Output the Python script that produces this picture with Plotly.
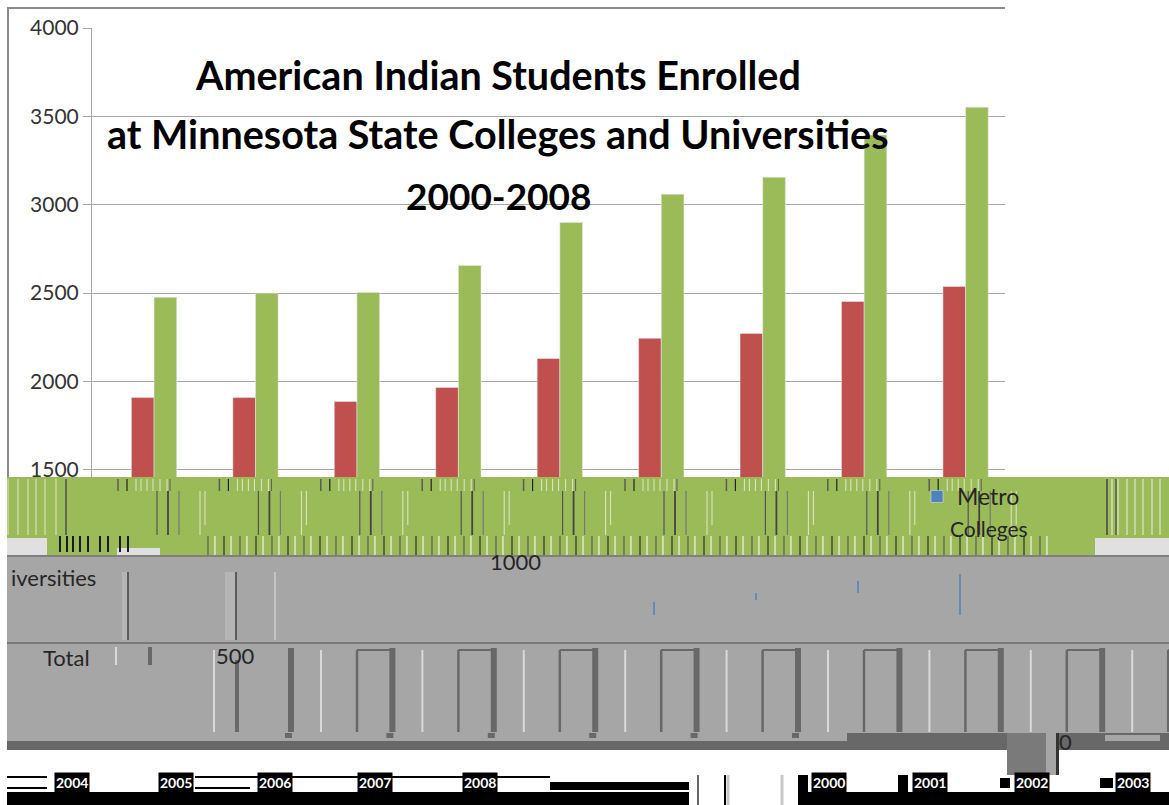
import plotly.graph_objects as go

YEARS = ["2000", "2001", "2002", "2003", "2004", "2005", "2006", "2007", "2008"]
METRO_COLLEGES = [565, 590, 615, 690, 770, 815, 885, 930, 1010]
STATE_UNIVERSITIES = [1909, 1909, 1887, 1966, 2130, 2244, 2272, 2453, 2538]
TOTAL = [2476, 2500, 2504, 2657, 2900, 3060, 3156, 3394, 3552]
Y_TICKS = [0, 500, 1000, 1500, 2000, 2500, 3000, 3500, 4000]
TITLE_LINES = ["American Indian Students Enrolled",
               "at Minnesota State Colleges and Universities",
               "2000-2008"]

FONT = "Lato"
L, R, T, B = 92, 1005, 28, 735


def px(x):
    return (x - L) / (R - L)


def py(y):
    return (B - y) / (B - T)


shapes = []


def rect(x0, y0, x1, y1, color):
    shapes.append(dict(type="rect", xref="paper", yref="paper",
                       x0=px(x0), x1=px(x1), y0=py(y0), y1=py(y1),
                       fillcolor=color, line=dict(width=0)))


def vline(x, y0, y1, color, w=1.0):
    rect(x - w / 2, y0, x + w / 2, y1, color)


fig = go.Figure()
fig.add_bar(x=YEARS, y=METRO_COLLEGES, name="Metro", marker_color="#4f81bd")
fig.add_bar(x=YEARS, y=STATE_UNIVERSITIES, name="State Universities",
            marker_color="#c0504d", showlegend=False)
fig.add_bar(x=YEARS, y=TOTAL, name="Total", marker_color="#9bbb59", showlegend=False)

# --- damaged lower part of the scan ---
GREEN, GREY, DARK, LIGHT = "#9bbb59", "#a6a6a6", "#686868", "#e0e0e0"
P = 101.4

rect(7, 477, 1169, 555, GREEN)
rect(7, 555, 1169, 741, GREY)
rect(7, 555, 1169, 557, "#808080")
rect(7, 538, 47, 555, LIGHT)
rect(117, 548, 160, 555, LIGHT)
rect(1095, 538, 1169, 555, LIGHT)
rect(7, 642, 1169, 644, "#7a7a7a")

# green band streaks, repeating with each category
for i in range(9):
    o = i * P
    vline(118 + o, 479, 491, "#5a5a5a", 1.5)
    vline(127 + o, 479, 491, "#222222", 1.2)
    for dx in (136, 141, 147, 153, 160, 167):
        vline(dx + o, 479, 491, "#dfe8c8", 1)
    vline(170 + o, 479, 491, "#5a5a5a", 1)
    vline(157 + o, 491, 535, "#555555", 1.2)
    vline(168 + o, 491, 535, "#444444", 1.8)
    vline(179 + o, 491, 535, "#777777", 1.2)
    vline(200 + o, 491, 535, "#dfe8c8", 1)
    vline(205 + o, 491, 525, "#dfe8c8", 1)

for i in range(53):
    x = 208 + 16 * i
    vline(x, 536, 555, "#222222" if i % 2 else "#555555", 1.1)
    vline(x + 7, 536, 555, "#f0f4e0", 1.2)
for dx in (60, 67, 73, 80, 88, 100, 108, 120, 128):
    vline(dx, 536, 552, "#1a1a1a", 2)
for dx in (8, 18, 28, 36, 45, 56, 66):
    vline(dx, 479, 535, "#dfe8c8", 1)
vline(66, 479, 535, "#444444", 1.5)
for dx in (1112, 1118, 1127, 1135, 1143, 1152, 1160):
    vline(dx, 479, 535, "#dfe8c8", 1.2)
vline(1107, 479, 535, "#444444", 1.5)
vline(1116, 479, 535, "#444444", 1.2)

# grey band streaks
vline(128, 572, 640, "#111111", 1)
rect(122, 572, 127, 640, "#b5b5b5")
vline(236, 572, 640, "#111111", 1)
rect(225, 572, 235, 640, "#b5b5b5")
vline(275, 572, 640, "#d8d8d8", 1.2)
for x, y0, y1 in ((654, 602, 615), (756, 593, 600), (858, 581, 593), (960, 574, 615)):
    vline(x, y0, y1, "#4f81bd", 1.5)

vline(237, 660, 732, DARK, 4)
vline(150, 647, 665, DARK, 4)
vline(116, 647, 665, "#d9d9d9", 2)
vline(214, 650, 732, "#d9d9d9", 2)
for i in range(9):
    o = i * P
    vline(321 + o, 650, 732, "#d9d9d9", 2)
    vline(291 + o, 648, 732, DARK, 6)
    vline(357 + o, 650, 732, DARK, 2.5)
    rect(357 + o, 649, 393 + o, 651, DARK)
    rect(285 + o, 733, 292 + o, 738, DARK)

# dark strip and block at lower right
rect(7, 741, 847, 750, DARK)
rect(847, 733, 1007, 750, DARK)
rect(1007, 733, 1046, 775, "#7a7a7a")
rect(1046, 733, 1056, 775, GREY)
rect(1056, 733, 1059, 775, "#333333")
rect(1059, 733, 1169, 750, DARK)
rect(1105, 735, 1160, 741, GREY)

# scrambled label strip
rect(7, 792, 689, 805, "#000000")
rect(798, 792, 1169, 805, "#000000")
rect(550, 782, 689, 790, "#000000")
rect(7, 776, 47, 778, "#000000")
rect(195, 776, 550, 778, "#000000")
rect(7, 787, 47, 789, "#000000")
rect(195, 787, 250, 789, "#000000")
rect(798, 775, 808, 792, "#000000")
rect(898, 775, 908, 792, "#000000")
rect(1000, 778, 1010, 788, "#000000")
rect(1100, 778, 1113, 788, "#000000")
vline(698, 775, 805, "#000000", 1.2)
vline(725, 775, 805, "#000000", 2)
vline(728, 775, 805, "#c8c8c8", 3)
vline(782, 775, 805, "#c8c8c8", 3)

# scan frame
rect(7, 7, 1005, 9, "#8c8c8c")
rect(7, 7, 9, 477, "#8c8c8c")

annotations = []


def text(s, x, y, size, color="#262626", bold=False, bg=None):
    annotations.append(dict(text=f"<b>{s}</b>" if bold else s, xref="paper", yref="paper",
                            x=px(x), y=py(y), xanchor="center", yanchor="middle",
                            showarrow=False, bgcolor=bg,
                            font=dict(family=FONT, size=size, color=color)))


for line, y, size in zip(TITLE_LINES, (75, 134, 195), (39.5, 39.5, 37)):
    text(line, 498, y, size, "#000000", True)

text("Colleges", 989, 528, 21)
text("iversities", 53, 577, 22)
text(str(Y_TICKS[2]), 515, 561, 22)
text("Total", 66, 657, 22)
text(str(Y_TICKS[1]), 235, 655, 22)
text(str(Y_TICKS[0]), 1065, 741, 22)

YEAR_X = [829, 930, 1032, 1133, 72, 176, 275, 375, 480]
for yr, x in zip(YEARS, YEAR_X):
    text(yr, x, 783, 14, "#ffffff", True, "#000000")

fig.update_layout(
    width=1169, height=805,
    margin=dict(l=L, r=1169 - R, t=T, b=805 - B),
    paper_bgcolor="#ffffff", plot_bgcolor="#ffffff",
    barmode="group", bargap=0.33, bargroupgap=0,
    font=dict(family=FONT, color="#262626"),
    shapes=shapes, annotations=annotations,
    legend=dict(x=px(917), y=py(475), xanchor="left", yanchor="top",
                bgcolor="rgba(0,0,0,0)", font=dict(family=FONT, size=23, color="#262626")),
)
fig.update_yaxes(range=[0, 4000], tickvals=Y_TICKS[3:], showgrid=True, gridcolor="#a6a6a6", gridwidth=1,
                 ticks="outside", ticklen=8, tickcolor="#a6a6a6", showline=True, linecolor="#a6a6a6",
                 zeroline=False, tickfont=dict(family=FONT, size=21, color="#333333"))
fig.update_xaxes(showticklabels=False, ticks="", showline=False, showgrid=False)
fig.write_html("out.html", config={"displayModeBar": False},
               post_script="document.body.style.margin='0';document.body.style.overflow='hidden';")
